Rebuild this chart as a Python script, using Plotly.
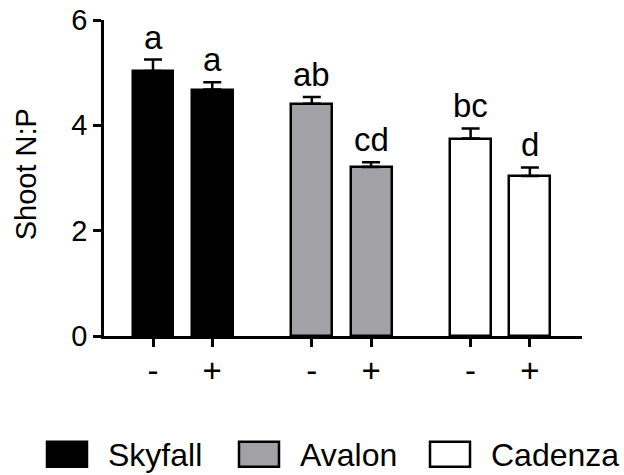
import plotly.graph_objects as go

cultivars = ["Skyfall", "Avalon", "Cadenza"]
treatments = ["-", "+"]
shoot_np = {
    "Skyfall": [5.03, 4.68],
    "Avalon": [4.41, 3.21],
    "Cadenza": [3.75, 3.04],
}
sem = {
    "Skyfall": [0.22, 0.14],
    "Avalon": [0.13, 0.09],
    "Cadenza": [0.19, 0.16],
}
letters = {
    "Skyfall": ["a", "a"],
    "Avalon": ["ab", "cd"],
    "Cadenza": ["bc", "d"],
}
fills = {"Skyfall": "#000000", "Avalon": "#a2a2a6", "Cadenza": "#ffffff"}

GROUP_GAP = 2.68
FONT = "Liberation Sans, Arial, sans-serif"
W, H = 624, 475
L, R, T, B = 104, 582, 19.5, 336  # plot-area pixel edges


def px_x(p):
    return (p - L) / (R - L)


def px_y(p):
    return (B - p) / (B - T)


fig = go.Figure()
annotations = []
tickvals, ticktext = [], []
for g, c in enumerate(cultivars):
    xs = [g * GROUP_GAP + t for t in range(len(treatments))]
    tickvals += xs
    ticktext += treatments
    fig.add_trace(go.Bar(
        x=xs, y=shoot_np[c], width=0.69, name=c,
        marker=dict(color=fills[c], line=dict(color="black", width=2.5)),
        error_y=dict(type="data", symmetric=False, array=sem[c],
                     arrayminus=[0] * len(xs), color="black",
                     thickness=2.5, width=9),
    ))
    for x, v, e, lt in zip(xs, shoot_np[c], sem[c], letters[c]):
        annotations.append(dict(x=x, y=v + e, text=lt, showarrow=False,
                                xref="x", yref="y", yanchor="bottom", yshift=2,
                                font=dict(size=33, color="black", family=FONT)))

# manual legend (wide swatches like the original)
leg_x = [47, 239, 430]
shapes = []
for c, lx in zip(cultivars, leg_x):
    shapes.append(dict(type="rect", xref="paper", yref="paper",
                       x0=px_x(lx), x1=px_x(lx + 40),
                       y0=px_y(467), y1=px_y(442),
                       line=dict(color="black", width=2.5), fillcolor=fills[c]))
    annotations.append(dict(x=px_x(lx + 59), y=px_y(455),
                            xref="paper", yref="paper", text=c, showarrow=False,
                            xanchor="left", yanchor="middle",
                            font=dict(size=32, color="black", family=FONT)))

annotations.append(dict(x=px_x(26), y=px_y(174), xref="paper", yref="paper",
                        text="Shoot N:P", showarrow=False, textangle=-90,
                        xanchor="center", yanchor="middle",
                        font=dict(size=29, color="black", family=FONT)))

fig.update_layout(
    width=W, height=H,
    margin=dict(l=L, r=W - R, t=T, b=H - B, autoexpand=False),
    paper_bgcolor="white", plot_bgcolor="white",
    showlegend=False,
    bargap=0,
    font=dict(family=FONT, color="black"),
    annotations=annotations,
    shapes=shapes,
)
fig.update_xaxes(
    range=[-0.827, 7.24], tickvals=tickvals, ticktext=ticktext,
    showline=True, linecolor="black", linewidth=2.5,
    ticks="outside", ticklen=8, tickwidth=2.5, tickcolor="black",
    tickfont=dict(size=33, family=FONT), showgrid=False, zeroline=False,
    automargin=False, ticklabelstandoff=-4,
)
fig.update_yaxes(
    range=[0, 6], tickvals=[0, 2, 4, 6],
    showline=True, linecolor="black", linewidth=2.5,
    ticks="outside", ticklen=8, tickwidth=2.5, tickcolor="black",
    tickfont=dict(size=29, family=FONT), showgrid=False, zeroline=False,
    automargin=False,
)

fig.write_html("out.html", config={"displayModeBar": False},
               post_script="document.body.style.margin='0';document.body.style.overflow='hidden';")
